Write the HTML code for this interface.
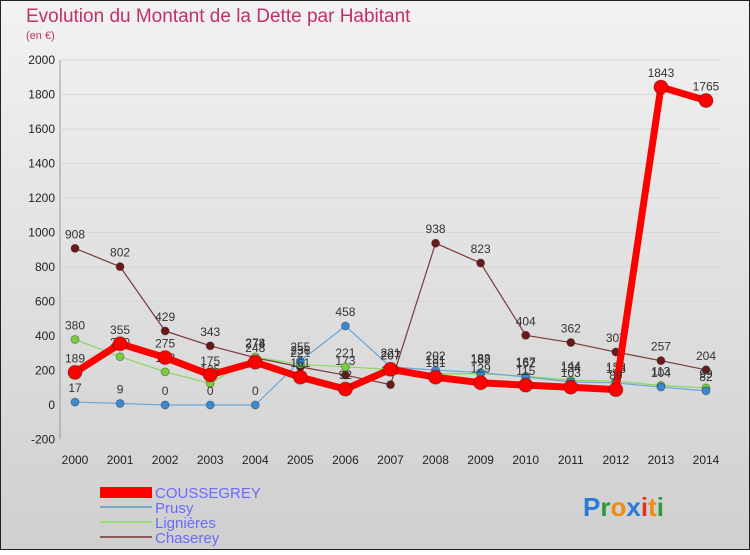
<!DOCTYPE html>
<html><head><meta charset="utf-8"><style>
body{margin:0;width:750px;height:550px;overflow:hidden;font-family:"Liberation Sans",sans-serif}
svg text{font-family:"Liberation Sans",sans-serif}
</style></head><body>
<svg id="c" width="750" height="550" xmlns="http://www.w3.org/2000/svg">
<defs><linearGradient id="bg" x1="0" y1="0" x2="0" y2="1"><stop offset="0" stop-color="#f2f2f2"/><stop offset="1" stop-color="#cfcfcf"/></linearGradient></defs>
<rect x="0.5" y="0.5" width="749" height="549" fill="url(#bg)" stroke="#222"/>
<text x="26" y="22" font-size="19" fill="#c0306a">Evolution du Montant de la Dette par Habitant</text>
<text x="26" y="39" font-size="11" fill="#c0306a">(en €)</text>
<g id="axes"></g>
<g id="series"></g>
<g>
<rect x="100" y="487" width="52" height="11" fill="#ff0000"/>
<text x="155" y="498" font-size="15" fill="#6a6aff">COUSSEGREY</text>
<rect x="100" y="506" width="52" height="2" fill="#7aa6c8"/>
<text x="155" y="513" font-size="15" fill="#6a6aff">Prusy</text>
<rect x="100" y="521" width="52" height="2" fill="#9ad87a"/>
<text x="155" y="528" font-size="15" fill="#6a6aff">Lignières</text>
<rect x="100" y="536" width="52" height="2" fill="#8a5a5a"/>
<text x="155" y="543" font-size="15" fill="#6a6aff">Chaserey</text>
</g>
<g font-size="26" font-weight="bold">
<text x="583" y="516"><tspan fill="#2a7ad8">P</tspan><tspan fill="#2a9a3a">r</tspan><tspan fill="#f08a10">o</tspan><tspan fill="#2a7ad8">x</tspan><tspan fill="#e03020">i</tspan><tspan fill="#f08a10">t</tspan><tspan fill="#2a9a3a">i</tspan></text>
</g>
</svg>
<script>
const years=["2000","2001","2002","2003","2004","2005","2006","2007","2008","2009","2010","2011","2012","2013","2014"];
const yTicks=[-200,0,200,400,600,800,1000,1200,1400,1600,1800,2000];
const coussegrey=[189,355,275,175,248,161,92,207,161,129,115,103,89,1843,1765];
const prusy=[17,9,0,0,0,255,458,221,202,188,162,134,128,104,82];
const lignieres=[380,280,192,125,278,236,221,207,181,182,167,144,138,113,99];
const chaserey=[908,802,429,343,274,221,173,118,938,823,404,362,307,257,204];
const NS="http://www.w3.org/2000/svg";
const X=i=>75+i*(706-75)/14;
const Y=v=>405-v*(345/2000);
function mk(t,a,p){const e=document.createElementNS(NS,t);for(const k in a)e.setAttribute(k,a[k]);p.appendChild(e);return e;}
const ax=document.getElementById('axes');
mk('line',{x1:60,y1:Y(-200),x2:60,y2:Y(2000),stroke:'#999'},ax);
mk('line',{x1:60,y1:Y(-200),x2:720,y2:Y(-200),stroke:'#999'},ax);
yTicks.forEach(v=>{
 const l=mk('line',{x1:60,y1:Y(v),x2:720,y2:Y(v),stroke:'#d8d8d8'},ax);
 
 
 const t=mk('text',{x:55,y:Y(v)+4,'font-size':12,'text-anchor':'end',fill:'#222'},ax);
 t.textContent=v;
 
 
});
years.forEach((y,i)=>{
 const t=mk('text',{x:X(i),y:464,'font-size':12,'text-anchor':'middle',fill:'#222'},ax);
 t.textContent=y;
 
 
});
const sg=document.getElementById('series');
function draw(name,data,color,w,r,dot){
 const g=mk('g',{},sg);
 
 
 const p=mk('polyline',{points:data.map((v,i)=>X(i)+','+Y(v)).join(' '),fill:'none',stroke:color,'stroke-width':w,'stroke-linejoin':'round'},g);
 
 
 data.forEach((v,i)=>{
  const c=mk('circle',{cx:X(i),cy:Y(v),r:r,fill:dot,stroke:'rgba(0,0,0,0.3)'},g);
  
  
  const t=mk('text',{x:X(i),y:Y(v)-10,'font-size':12,'text-anchor':'middle',fill:'#333'},g);
  t.textContent=v;
  
  
 });
}
draw('chaserey',chaserey,'#7a3a3a',1.2,4,'#6a1a1a');
draw('lignieres',lignieres,'#8ad860',1.2,4,'#7acc40');
draw('prusy',prusy,'#6aa6d6',1.2,4,'#3a8ad0');
draw('coussegrey',coussegrey,'#ff0000',7,7,'#ff0000');
</script>
</body></html>
